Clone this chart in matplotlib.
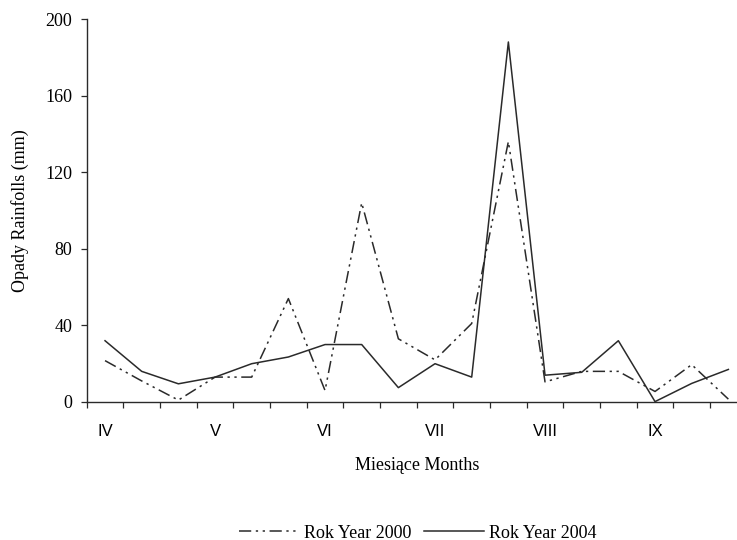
import matplotlib
matplotlib.use("Agg")
import matplotlib.pyplot as plt
from matplotlib.ticker import FixedLocator, NullFormatter

# Data: 18 ten-day periods (decades), April - September
decades = list(range(18))
month_labels = ["IV", "V", "VI", "VII", "VIII", "IX"]
month_positions = [0, 3, 6, 9, 12, 15]

rain_2000 = [21.6, 11, 1, 13, 13, 54, 6, 104, 33, 22, 41, 136, 10.5, 16, 16, 5.5, 19.5, 1.5]
rain_2004 = [32, 16, 9.5, 13, 20, 23.5, 30, 30, 7.5, 20, 13, 188, 14, 15.5, 32, 0.2, 9.7, 17]

serif = ["Liberation Serif", "DejaVu Serif"]
sans = ["Liberation Sans", "DejaVu Sans"]

fig = plt.figure(figsize=(7.37, 5.40), dpi=100)
W, H = 737, 540
left, right, bottom, top = 86.7, 746.7, 402, 19
ax = fig.add_axes([left / W, 1 - bottom / H, (right - left) / W, (bottom - top) / H])

col = "#2a2a2a"
ax.plot(decades, rain_2000, color=col, lw=1.1,
        linestyle=(0, (8, 3, 1.5, 3, 1.5, 3)), label="Rok Year 2000")
ax.plot(decades, rain_2004, color=col, lw=1.1, linestyle="-", label="Rok Year 2004")

ax.set_xlim(-0.5, 17.5)
ax.set_ylim(0, 200)
ax.set_yticks([0, 40, 80, 120, 160, 200])
for s in ["top", "right"]:
    ax.spines[s].set_visible(False)
for s in ["left", "bottom"]:
    ax.spines[s].set_color(col)
    ax.spines[s].set_linewidth(1.0)

ax.tick_params(axis="y", direction="out", length=4.3, width=0.9, pad=6, colors=col)
for lab in ax.get_yticklabels():
    lab.set_fontfamily(serif)
    lab.set_fontsize(13)
    lab.set_color("black")

ax.set_xticks(month_positions)
ax.set_xticklabels(month_labels, fontfamily=sans, fontsize=12)
ax.tick_params(axis="x", which="major", length=0, pad=15.8)
ax.xaxis.set_minor_locator(FixedLocator([i - 0.5 for i in range(19)]))
ax.xaxis.set_minor_formatter(NullFormatter())
ax.tick_params(axis="x", which="minor", direction="out", length=4.3, width=0.9, colors=col)

ax.set_ylabel("Opady Rainfolls (mm)", fontfamily=serif, fontsize=13)
ax.yaxis.set_label_coords(-0.087, 0.5)
ax.set_xlabel("Miesiące Months", fontfamily=serif, fontsize=13)
ax.xaxis.set_label_coords(0.5, -0.143)

fig.legend(loc="center", bbox_to_anchor=(418 / W, 1 - 533 / H), ncol=2, frameon=False,
           prop={"family": serif, "size": 13}, handlelength=3.3, handletextpad=0.3,
           columnspacing=0.7)

fig.savefig("out.png", dpi=100)
